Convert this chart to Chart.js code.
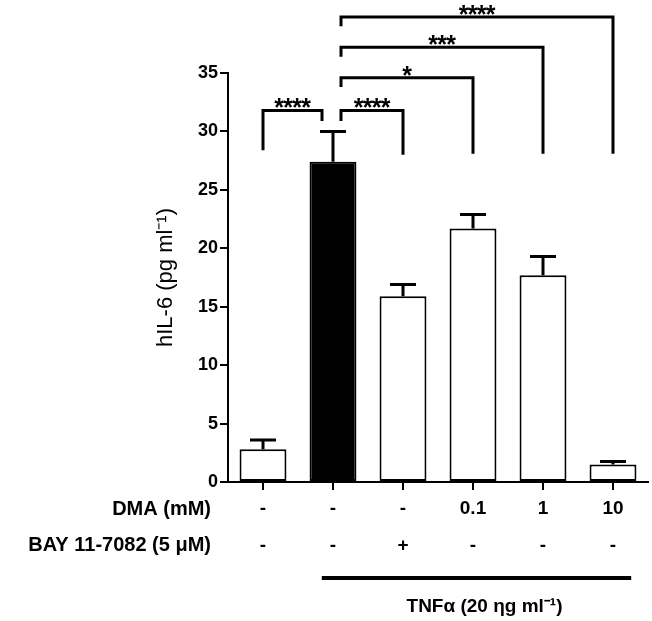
<!DOCTYPE html>
<html>
<head>
<meta charset="utf-8">
<script src="https://cdn.jsdelivr.net/npm/chart.js@4"></script>
<style>
  html, body { margin: 0; padding: 0; background: #fff; }
</style>
</head>
<body>
<canvas id="il6Chart" width="652" height="621"></canvas>
<script>
// treatment groups (x categories)
const groups = ['Control', 'TNFa', 'TNFa + BAY', 'TNFa + DMA 0.1', 'TNFa + DMA 1', 'TNFa + DMA 10'];
const dmaLabels = ['-', '-', '-', '0.1', '1', '10'];
const bayLabels = ['-', '-', '+', '-', '-', '-'];

// hIL-6 (pg/ml), mean and SEM
const meanIL6 = [2.8, 27.4, 15.9, 21.7, 17.7, 1.5];
const semIL6 = [0.8, 2.6, 1.0, 1.2, 1.6, 0.25];

// significance brackets: group pairs, label, bar height, leg ends (pg/ml)
const sigPairs = [[0, 1], [1, 2], [1, 3], [1, 4], [1, 5]];
const sigLabels = ['****', '****', '*', '***', '****'];
const sigHeights = [31.8, 31.8, 34.6, 37.2, 39.8];
const sigLegEnds = [[28.4, 30.9], [30.9, 28.0], [33.8, 28.1], [36.4, 28.1], [39.0, 28.1]];

const FONT = "'Liberation Sans', Arial, Helvetica, sans-serif";

const annotations = {
	id: 'annotations',
	afterDatasetsDraw( chart ){
		const { ctx, chartArea, scales: { x, y } } = chart;
		ctx.save();
		ctx.strokeStyle = '#000';
		ctx.fillStyle = '#000';

		// error bars (upper only)
		ctx.lineWidth = 3;
		meanIL6.forEach( ( m, i ) => {
			const cx = x.getPixelForValue( i );
			const top = y.getPixelForValue( m + semIL6[i] );
			ctx.beginPath();
			ctx.moveTo( cx, y.getPixelForValue( m ) );
			ctx.lineTo( cx, top );
			ctx.moveTo( cx - 13, top );
			ctx.lineTo( cx + 13, top );
			ctx.stroke();
		});

		// significance brackets
		ctx.lineWidth = 3;
		ctx.textAlign = 'center';
		ctx.textBaseline = 'alphabetic';
		ctx.font = 'bold 25px ' + FONT;
		sigPairs.forEach( ( [a, b], k ) => {
			let xa = x.getPixelForValue( a );
			let xb = x.getPixelForValue( b );
			if( a === 1 ) xa += 8;
			if( b === 1 ) xb -= 11;
			const yh = y.getPixelForValue( sigHeights[k] );
			ctx.beginPath();
			ctx.moveTo( xa, y.getPixelForValue( sigLegEnds[k][0] ) );
			ctx.lineTo( xa, yh );
			ctx.lineTo( xb, yh );
			ctx.lineTo( xb, y.getPixelForValue( sigLegEnds[k][1] ) );
			ctx.stroke();
			const stars = sigLabels[k];
			const mid = ( xa + xb ) / 2;
			for( let s = 0; s < stars.length; s++ ){
				ctx.fillText( '*', mid + ( s - ( stars.length - 1 ) / 2 ) * 9, yh + 6 );
			}
		});

		// table row headers
		ctx.textAlign = 'right';
		ctx.textBaseline = 'middle';
		ctx.font = 'bold 20px ' + FONT;
		ctx.fillText( 'DMA (mM)', chartArea.left - 17, chartArea.bottom + 27 );
		ctx.fillText( 'BAY 11-7082 (5 \u03BCM)', chartArea.left - 17, chartArea.bottom + 63 );

		// TNFα bar
		const step = x.getPixelForValue( 1 ) - x.getPixelForValue( 0 );
		const x0 = x.getPixelForValue( 1 ) - 0.16 * step;
		const x1 = x.getPixelForValue( 5 ) + 0.26 * step;
		const yl = chartArea.bottom + 96;
		ctx.lineWidth = 4;
		ctx.beginPath();
		ctx.moveTo( x0, yl );
		ctx.lineTo( x1, yl );
		ctx.stroke();
		ctx.textAlign = 'center';
		ctx.font = 'bold 19px ' + FONT;
		ctx.fillText( 'TNF\u03B1 (20 \u03B7g ml\u207B\u00B9)', ( x0 + x1 ) / 2 + 8, yl + 29 );

		ctx.restore();
	}
};

new Chart( document.getElementById( 'il6Chart' ), {
	type: 'bar',
	data: {
		labels: groups,
		datasets: [{
			label: 'hIL-6',
			data: meanIL6,
			backgroundColor: meanIL6.map( ( v, i ) => i === 1 ? '#000' : '#fff' ),
			borderColor: '#000',
			borderWidth: 2,
			borderSkipped: false,
			categoryPercentage: 1,
			barPercentage: 0.67
		}]
	},
	options: {
		responsive: false,
		animation: false,
		layout: { padding: { top: 73, right: 4, left: 0, bottom: 57 } },
		plugins: {
			legend: { display: false },
			tooltip: { enabled: false }
		},
		scales: {
			x: {
				border: { display: true, color: '#000', width: 2 },
				grid: { offset: false, drawOnChartArea: false, drawTicks: true, tickLength: 8, color: '#000', lineWidth: 2 },
				ticks: {
					color: '#000',
					padding: 0,
					autoSkip: false,
					maxRotation: 0,
					font: { family: FONT, size: 19, weight: 'bold', lineHeight: '37px' },
					callback: ( v, i ) => [ dmaLabels[i], bayLabels[i] ]
				}
			},
			y: {
				min: 0,
				max: 35,
				border: { display: true, color: '#000', width: 2 },
				grid: { drawOnChartArea: false, drawTicks: true, tickLength: 8, color: '#000', lineWidth: 2 },
				ticks: {
					stepSize: 5,
					color: '#000',
					padding: 2,
					font: { family: FONT, size: 18, weight: 'bold' }
				},
				title: {
					display: true,
					text: 'hIL-6 (pg ml\u207B\u00B9)',
					color: '#000',
					font: { family: FONT, size: 22 },
					padding: { top: 153, bottom: 0 }
				},
				afterFit( scale ){
					scale.width = 228;
				}
			}
		}
	},
	plugins: [ annotations ]
});
</script>
</body>
</html>
